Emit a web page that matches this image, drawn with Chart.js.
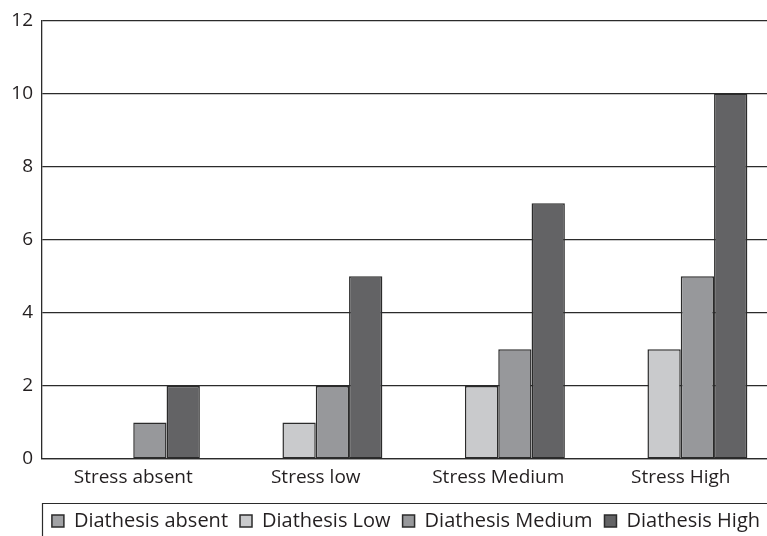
<!DOCTYPE html>
<html>
<head>
<meta charset="utf-8">
<script src="https://cdn.jsdelivr.net/npm/chart.js@4.4.1/dist/chart.umd.min.js"></script>
<style>
  html, body { margin: 0; padding: 0; background: #fff; overflow: hidden; }
  #wrap { width: 772px; height: 541px; position: relative; }
</style>
</head>
<body>
<div id="wrap"><canvas id="stressChart"></canvas></div>
<script>
// Stress x Diathesis bar chart

const CATEGORIES = ['Stress absent', 'Stress low', 'Stress Medium', 'Stress High'];
const SERIES_NAMES = ['Diathesis absent', 'Diathesis Low', 'Diathesis Medium', 'Diathesis High'];
const DIATHESIS_ABSENT = [0, 0, 0, 0];
const DIATHESIS_LOW = [0, 1, 2, 3];
const DIATHESIS_MEDIUM = [1, 2, 3, 5];
const DIATHESIS_HIGH = [2, 5, 7, 10];
const Y_TICKS = [0, 2, 4, 6, 8, 10, 12];

const FILLS = ['#a1a2a5', '#c9cacc', '#97989b', '#636365'];
const INK = '#2b2b2b';

const seriesValues = [DIATHESIS_ABSENT, DIATHESIS_LOW, DIATHESIS_MEDIUM, DIATHESIS_HIGH];

Chart.defaults.font.family = "'Open Sans', sans-serif";
Chart.defaults.color = '#231f20';

// frame lines round the legend (top + left)
const legendFrame = {
    id: 'legendFrame',
    afterDraw(chart) {
        const lg = chart.legend;
        const ctx = chart.ctx;
        const y = Math.round(lg.top + 4) + 0.5;
        const x = Math.round(chart.chartArea.left) + 0.5;
        ctx.save();
        ctx.strokeStyle = INK;
        ctx.lineWidth = 1.2;
        ctx.beginPath();
        ctx.moveTo(x, chart.height);
        ctx.lineTo(x, y);
        ctx.lineTo(chart.width, y);
        ctx.stroke();
        ctx.restore();
    }
};

new Chart(document.getElementById('stressChart').getContext('2d'), {
    type: 'bar',
    data: {
        labels: CATEGORIES,
        datasets: SERIES_NAMES.map((name, i) => ({
            label: name,
            data: seriesValues[i],
            backgroundColor: FILLS[i],
            borderColor: INK,
            borderWidth: 1.5,
            borderSkipped: false,
            categoryPercentage: 0.73,
            barPercentage: 1.0
        }))
    },
    options: {
        responsive: true,
        maintainAspectRatio: false,
        animation: false,
        layout: { padding: { top: 9, right: 0, bottom: 0, left: 0 } },
        plugins: {
            tooltip: { enabled: false },
            legend: {
                position: 'bottom',
                align: 'end',
                labels: {
                    boxWidth: 12,
                    boxHeight: 12,
                    padding: 12,
                    color: '#231f20',
                    font: { size: 20 }
                }
            }
        },
        scales: {
            x: {
                grid: { display: false, drawTicks: false },
                border: { display: true, color: INK, width: 1.3 },
                ticks: { padding: 7, font: { size: 19 }, color: '#231f20' },
                afterFit: (s) => { s.height = 40; }
            },
            y: {
                min: 0,
                max: 12,
                afterBuildTicks: (s) => { s.ticks = Y_TICKS.map(v => ({ value: v })); },
                grid: { color: INK, lineWidth: 1.2, drawTicks: false },
                border: { display: true, color: INK, width: 1.3 },
                ticks: { padding: 9, font: { size: 19 }, color: '#231f20' },
                afterFit: (s) => { s.width = 42; }
            }
        }
    },
    plugins: [legendFrame]
});
</script>
</body>
</html>
